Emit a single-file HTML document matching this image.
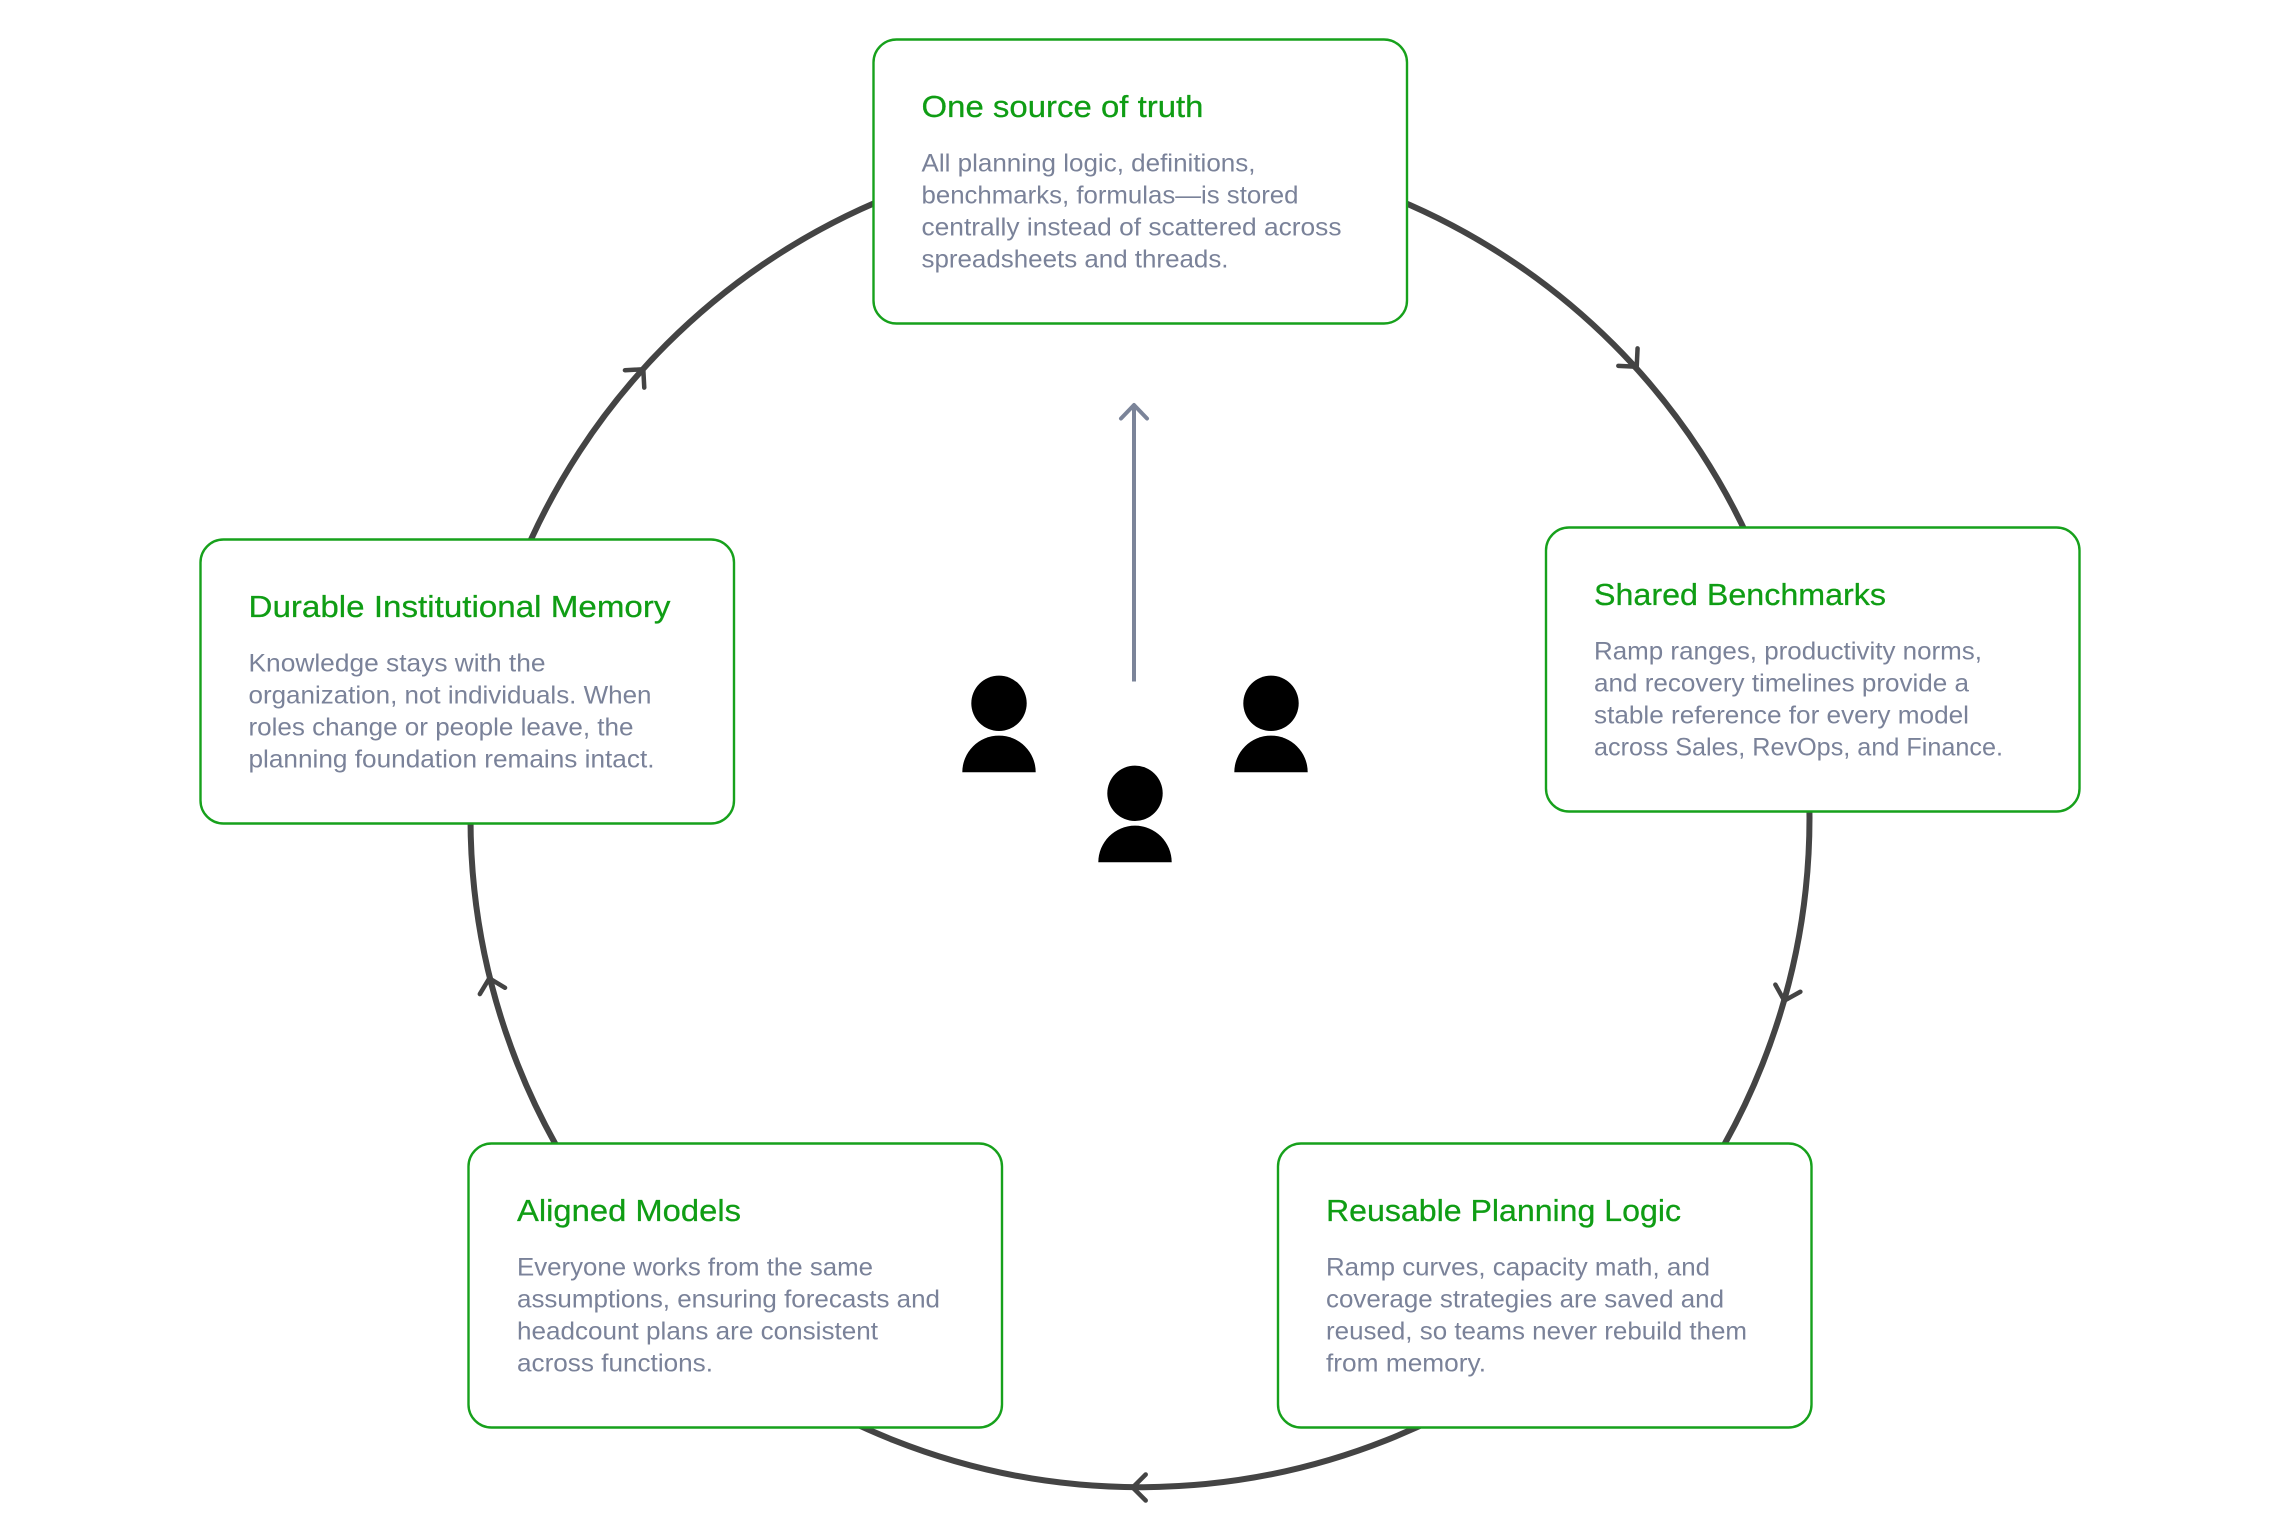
<!DOCTYPE html>
<html lang="en">
<head>
<meta charset="utf-8">
<title>Planning cycle diagram</title>
<style>
html,body{margin:0;padding:0;background:#fff;width:2270px;height:1527px;overflow:hidden}
svg{display:block}
text{font-family:"Liberation Sans",sans-serif}
.t{font-size:31px;fill:#0f9d14;stroke:#0f9d14;stroke-width:.25}
.b{font-size:25px;fill:#7a8299}
.box{fill:#fff;stroke:#17a11c;stroke-width:2.4}
.ah{fill:none;stroke:#444;stroke-width:4.5;stroke-linecap:round;stroke-linejoin:round}
</style>
</head>
<body>
<svg width="2270" height="1527" viewBox="0 0 2270 1527" xmlns="http://www.w3.org/2000/svg">
<rect width="2270" height="1527" fill="#fff"/>
<circle cx="1140" cy="817.7" r="669.5" fill="none" stroke="#444" stroke-width="6"/>
<path class="ah" d="M-13,-13 L0,0 L-13,13" transform="translate(1636.7 366.7) rotate(47.7)"/>
<path class="ah" d="M-13,-13 L0,0 L-13,13" transform="translate(1784.3 1000.7) rotate(105.9)"/>
<path class="ah" d="M-13,-13 L0,0 L-13,13" transform="translate(1132.7 1487.5) rotate(180)"/>
<path class="ah" d="M-13,-13 L0,0 L-13,13" transform="translate(489.3 978.3) rotate(-104)"/>
<path class="ah" d="M-13,-13 L0,0 L-13,13" transform="translate(643.3 369.3) rotate(-48)"/>

<rect class="box" x="873.5" y="39.5" width="533.5" height="284" rx="23"/>
<text class="t" x="921.5" y="117" textLength="282" lengthAdjust="spacingAndGlyphs">One source of truth</text>
<text class="b" x="921.5" y="171.5" textLength="334" lengthAdjust="spacingAndGlyphs">All planning logic, definitions,</text>
<text class="b" x="921.5" y="203.5" textLength="377" lengthAdjust="spacingAndGlyphs">benchmarks, formulas—is stored</text>
<text class="b" x="921.5" y="235.5" textLength="420" lengthAdjust="spacingAndGlyphs">centrally instead of scattered across</text>
<text class="b" x="921.5" y="267.5" textLength="307" lengthAdjust="spacingAndGlyphs">spreadsheets and threads.</text>

<rect class="box" x="1546" y="527.5" width="533.5" height="284" rx="23"/>
<text class="t" x="1594" y="605" textLength="292" lengthAdjust="spacingAndGlyphs">Shared Benchmarks</text>
<text class="b" x="1594" y="659.5" textLength="388" lengthAdjust="spacingAndGlyphs">Ramp ranges, productivity norms,</text>
<text class="b" x="1594" y="691.5" textLength="375" lengthAdjust="spacingAndGlyphs">and recovery timelines provide a</text>
<text class="b" x="1594" y="723.5" textLength="375" lengthAdjust="spacingAndGlyphs">stable reference for every model</text>
<text class="b" x="1594" y="755.5" textLength="409" lengthAdjust="spacingAndGlyphs">across Sales, RevOps, and Finance.</text>

<rect class="box" x="200.5" y="539.5" width="533.5" height="284" rx="23"/>
<text class="t" x="248.5" y="617" textLength="422" lengthAdjust="spacingAndGlyphs">Durable Institutional Memory</text>
<text class="b" x="248.5" y="671.5" textLength="297" lengthAdjust="spacingAndGlyphs">Knowledge stays with the</text>
<text class="b" x="248.5" y="703.5" textLength="403" lengthAdjust="spacingAndGlyphs">organization, not individuals. When</text>
<text class="b" x="248.5" y="735.5" textLength="385" lengthAdjust="spacingAndGlyphs">roles change or people leave, the</text>
<text class="b" x="248.5" y="767.5" textLength="406" lengthAdjust="spacingAndGlyphs">planning foundation remains intact.</text>

<rect class="box" x="468.5" y="1143.5" width="533.5" height="284" rx="23"/>
<text class="t" x="517" y="1221" textLength="224" lengthAdjust="spacingAndGlyphs">Aligned Models</text>
<text class="b" x="517" y="1275.5" textLength="356" lengthAdjust="spacingAndGlyphs">Everyone works from the same</text>
<text class="b" x="517" y="1307.5" textLength="423" lengthAdjust="spacingAndGlyphs">assumptions, ensuring forecasts and</text>
<text class="b" x="517" y="1339.5" textLength="361" lengthAdjust="spacingAndGlyphs">headcount plans are consistent</text>
<text class="b" x="517" y="1371.5" textLength="196" lengthAdjust="spacingAndGlyphs">across functions.</text>

<rect class="box" x="1278" y="1143.5" width="533.5" height="284" rx="23"/>
<text class="t" x="1326" y="1221" textLength="355" lengthAdjust="spacingAndGlyphs">Reusable Planning Logic</text>
<text class="b" x="1326" y="1275.5" textLength="384" lengthAdjust="spacingAndGlyphs">Ramp curves, capacity math, and</text>
<text class="b" x="1326" y="1307.5" textLength="398" lengthAdjust="spacingAndGlyphs">coverage strategies are saved and</text>
<text class="b" x="1326" y="1339.5" textLength="421" lengthAdjust="spacingAndGlyphs">reused, so teams never rebuild them</text>
<text class="b" x="1326" y="1371.5" textLength="160" lengthAdjust="spacingAndGlyphs">from memory.</text>

<path d="M1134 681.5V406" fill="none" stroke="#7b8499" stroke-width="4"/>
<path d="M1121 418.5L1134 405L1147 418.5" fill="none" stroke="#7b8499" stroke-width="4" stroke-linecap="round" stroke-linejoin="round"/>

<g fill="#000">
<circle cx="999" cy="703.3" r="27.7"/>
<path d="M962.3 772.3A36.7 36.7 0 0 1 1035.7 772.3Z"/>
<circle cx="1271" cy="703.3" r="27.7"/>
<path d="M1234.3 772.3A36.7 36.7 0 0 1 1307.7 772.3Z"/>
<circle cx="1135" cy="793.3" r="27.7"/>
<path d="M1098.3 862.3A36.7 36.7 0 0 1 1171.7 862.3Z"/>
</g>
</svg>
</body>
</html>
